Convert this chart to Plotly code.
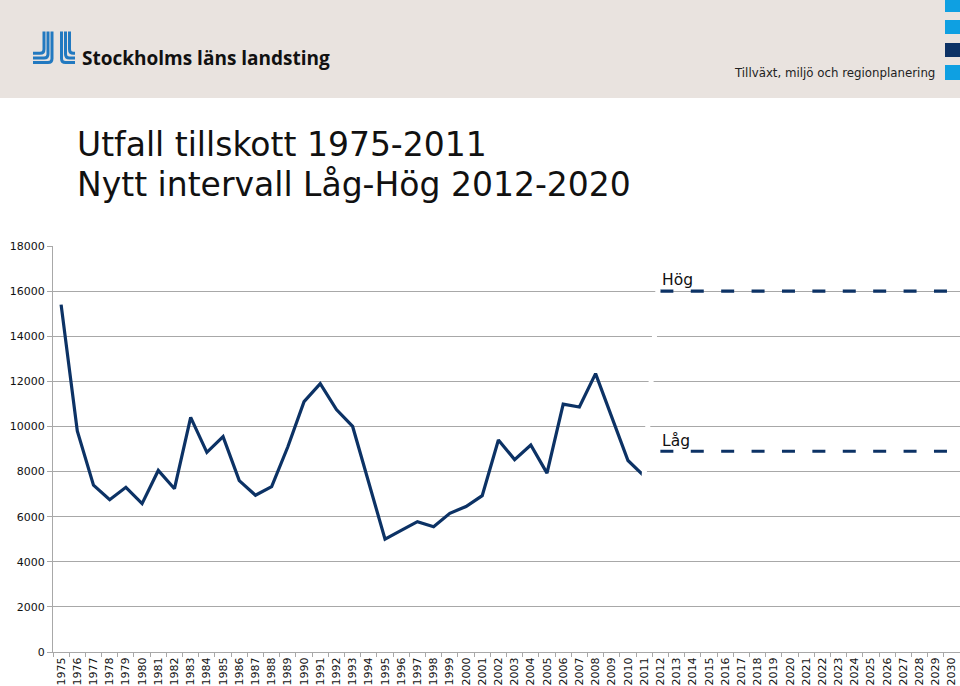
import plotly.graph_objects as go

# ---------------- data ----------------
years = [str(y) for y in range(1975, 2031)]

utfall_years = [str(y) for y in range(1975, 2012)]
utfall = [15400, 9800, 7400, 6750, 7300, 6580, 8050, 7240, 10400, 8850,
          9550, 7600, 6950, 7330, 9100, 11100, 11900, 10750, 10000, 7520,
          5000, 5390, 5780, 5550, 6150, 6450, 6930, 9400, 8530, 9180,
          7930, 10990, 10860, 12340, 10450, 8490, 7800]

prognos_years = [str(y) for y in range(2012, 2031)]
hog = [16000, 16000, 16000, 16000, 16000, 16000, 16000, 16000, 16000, 16000,
       16000, 16000, 16000, 16000, 16000, 16000, 16000, 16000, 16000]
lag = [8900, 8900, 8900, 8900, 8900, 8900, 8900, 8900, 8900, 8900,
       8900, 8900, 8900, 8900, 8900, 8900, 8900, 8900, 8900]

y_ticks = [0, 2000, 4000, 6000, 8000, 10000, 12000, 14000, 16000, 18000]

title_1 = "Utfall tillskott 1975-2011"
title_2 = "Nytt intervall Låg-Hög 2012-2020"
org_name = "Stockholms läns landsting"
dept_name = "Tillväxt, miljö och regionplanering"

# ---------------- geometry ----------------
W, H = 960, 686
L, R, T, B = 53, 0, 246, 34
PW, PH = W - L - R, H - T - B

def px(x):
    return (x - L) / PW

def py(y):
    return (T + PH - y) / PH

NAVY = "#0c3265"
LIGHT = "#0ea0e2"
GRID = "#a8a8a8"
HEADER = "#e9e3df"
LOGO = "#2279c0"

fig = go.Figure()

fig.add_trace(go.Scatter(x=utfall_years, y=utfall, mode="lines",
                         line=dict(color=NAVY, width=3.2), hoverinfo="skip",
                         showlegend=False))
fig.add_trace(go.Scatter(x=prognos_years, y=hog, mode="lines",
                         line=dict(color=NAVY, width=3.2, dash="13px,17.4px"),
                         hoverinfo="skip", showlegend=False))
fig.add_trace(go.Scatter(x=prognos_years, y=lag, mode="lines",
                         line=dict(color=NAVY, width=3.2, dash="13px,17.4px"),
                         hoverinfo="skip", showlegend=False))

shapes = []
# header band
shapes.append(dict(type="rect", xref="paper", yref="paper", layer="above",
                   x0=px(0), x1=px(960), y0=py(98), y1=py(0),
                   fillcolor=HEADER, line=dict(width=0)))
# right-side squares
for (y0, y1, c) in [(-2, 12, LIGHT), (20, 34, LIGHT), (43, 57, NAVY), (65, 80, LIGHT)]:
    shapes.append(dict(type="rect", xref="paper", yref="paper", layer="above",
                       x0=px(945), x1=px(961), y0=py(y1), y1=py(y0),
                       fillcolor=c, line=dict(width=0)))

def P(x, y):
    return f"{px(x):.6f},{py(y):.6f}"

# logo strokes (JL symbol)
top = 31.5
r = 4
left_stems = [(44, 53.3), (48, 58), (52, 62.5)]
for sx, hy in left_stems:
    d = f"M {P(sx, top)} L {P(sx, hy - r)} Q {P(sx, hy)} {P(sx - r, hy)} L {P(33, hy)}"
    shapes.append(dict(type="path", xref="paper", yref="paper", layer="above",
                       path=d, line=dict(color=LOGO, width=3)))
right_stems = [(61.5, 62.5), (65.5, 58), (69.5, 53.3)]
for sx, hy in right_stems:
    d = f"M {P(sx, top)} L {P(sx, hy - r)} Q {P(sx, hy)} {P(sx + r, hy)} L {P(75, hy)}"
    shapes.append(dict(type="path", xref="paper", yref="paper", layer="above",
                       path=d, line=dict(color=LOGO, width=3)))

# no gridline at the top value
shapes.append(dict(type="line", xref="paper", yref="y", layer="above",
                   x0=px(53.6), x1=px(961), y0=y_ticks[-1], y1=y_ticks[-1],
                   line=dict(color="white", width=2)))

# white slanted separator (gaps in gridlines near 2011/2012)
shapes.append(dict(type="line", xref="paper", yref="paper", layer="above",
                   x0=px(657.9), y0=py(290), x1=px(643.8), y1=py(480),
                   line=dict(color="white", width=5)))

idx_2012 = years.index(prognos_years[0])

annotations = [
    dict(text=org_name, xref="paper", yref="paper", x=px(80), y=py(43),
         xanchor="left", yanchor="top", showarrow=False,
         font=dict(family="Open Sans", size=19, color="#111111", weight="bold")),
    dict(text=dept_name, xref="paper", yref="paper", x=px(937), y=py(64),
         xanchor="right", yanchor="top", showarrow=False,
         font=dict(family="DejaVu Sans", size=11.8, color="#222222")),
    dict(text=title_1, xref="paper", yref="paper", x=px(75), y=py(122.5),
         xanchor="left", yanchor="top", showarrow=False,
         font=dict(family="DejaVu Sans", size=33, color="#111111")),
    dict(text=title_2, xref="paper", yref="paper", x=px(75), y=py(162.5),
         xanchor="left", yanchor="top", showarrow=False,
         font=dict(family="DejaVu Sans", size=33, color="#111111")),
    dict(text="Hög", xref="x", yref="y", x=idx_2012, y=hog[0],
         xanchor="left", yanchor="bottom", xshift=0, yshift=0, showarrow=False,
         font=dict(family="DejaVu Sans", size=15.5, color="#111111")),
    dict(text="Låg", xref="x", yref="y", x=idx_2012, y=lag[0],
         xanchor="left", yanchor="bottom", xshift=0, yshift=-1, showarrow=False,
         font=dict(family="DejaVu Sans", size=15.5, color="#111111")),
]

fig.update_layout(
    width=W, height=H,
    margin=dict(l=L, r=R, t=T, b=B, pad=0),
    paper_bgcolor="white", plot_bgcolor="white",
    shapes=shapes, annotations=annotations,
    showlegend=False,
    xaxis=dict(type="category", categoryorder="array", categoryarray=years,
               range=[-0.5, len(years) - 0.5], tickangle=-90,
               ticks="outside", ticklen=4, tickcolor=GRID, tickson="boundaries",
               showline=True, linecolor=GRID, linewidth=1,
               showgrid=False, zeroline=False,
               tickfont=dict(family="DejaVu Sans", size=11, color="#111111")),
    yaxis=dict(range=[0, 18000], tickvals=y_ticks, tickformat="d",
               ticks="outside", ticklen=5, tickcolor=GRID,
               showline=True, linecolor=GRID, linewidth=1,
               showgrid=True, gridcolor=GRID, gridwidth=1, zeroline=False,
               tickfont=dict(family="DejaVu Sans", size=11, color="#111111")),
)

fig.write_html("out.html")
